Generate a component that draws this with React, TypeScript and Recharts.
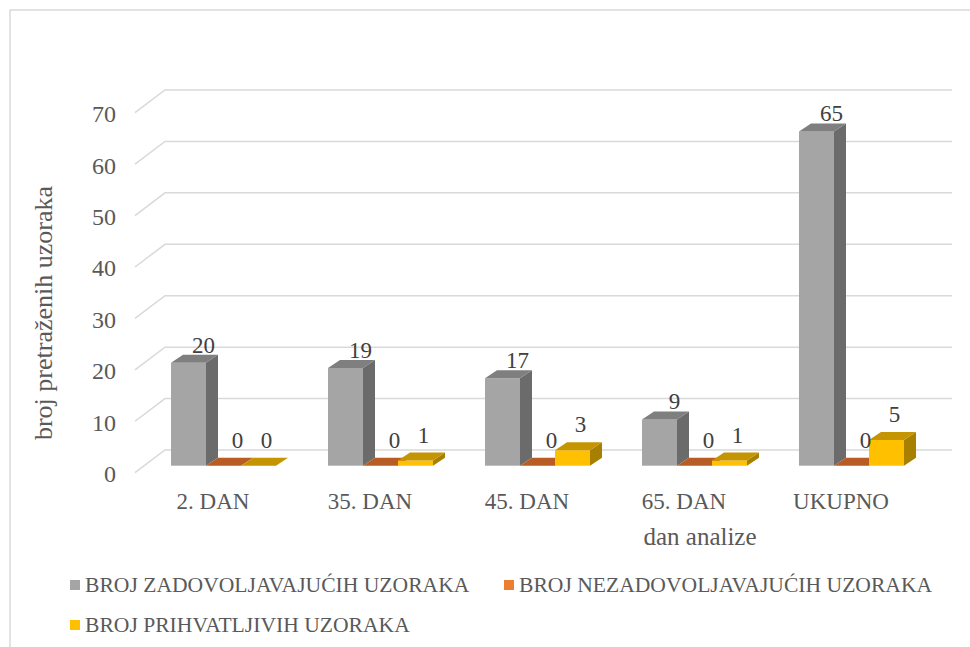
import React from 'react';
import {
  Bar,
  BarChart,
  CartesianGrid,
  LabelList,
  Legend,
  XAxis,
  YAxis,
} from 'recharts';

const categories = ['2. DAN', '35. DAN', '45. DAN', '65. DAN', 'UKUPNO'];
const zadovoljavajuci = [20, 19, 17, 9, 65];
const nezadovoljavajuci = [0, 0, 0, 0, 0];
const prihvatljivi = [0, 1, 3, 1, 5];
const yTicks = [0, 10, 20, 30, 40, 50, 60, 70];

const seriesNames = [
  'BROJ ZADOVOLJAVAJUĆIH UZORAKA',
  'BROJ NEZADOVOLJAVAJUĆIH UZORAKA',
  'BROJ PRIHVATLJIVIH UZORAKA',
];

const FONT = 'Liberation Serif';
const TEXT = '#595959';

// 3D faces: front, side, top
const palette = [
  { front: '#a5a5a5', side: '#6b6b6b', top: '#7f7f7f' },
  { front: '#ed7d31', side: '#a3541f', top: '#b85c24' },
  { front: '#ffc000', side: '#a88000', top: '#c49500' },
];

const DEPTH_X = 12;
const DEPTH_Y = 8;

const data = categories.map((name, i) => ({
  name,
  zad: zadovoljavajuci[i],
  nez: nezadovoljavajuci[i],
  pri: prihvatljivi[i],
}));

const makeShape = (c: { front: string; side: string; top: string }) => (props: any) => {
  const { x, y, width, height } = props;
  if (x == null || y == null) return null;
  const h = Math.max(0, height || 0);
  const side = `${x + width},${y} ${x + width + DEPTH_X},${y - DEPTH_Y} ${x + width + DEPTH_X},${y + h - DEPTH_Y} ${x + width},${y + h}`;
  const top = `${x},${y} ${x + DEPTH_X},${y - DEPTH_Y} ${x + width + DEPTH_X},${y - DEPTH_Y} ${x + width},${y}`;
  return (
    <g>
      {h > 0 && <rect x={x} y={y} width={width} height={h} fill={c.front} />}
      {h > 0 && <polygon points={side} fill={c.side} />}
      <polygon points={top} fill={c.top} />
    </g>
  );
};

const makeLabel = (dx: number, dy: number) => (props: any) => {
  const { x, y, width, value } = props;
  return (
    <text
      x={x + width / 2 + dx}
      y={y + dy}
      textAnchor="middle"
      fontFamily={FONT}
      fontSize={23}
      fill="#404040"
    >
      {value}
    </text>
  );
};

const gridLine = (props: any) => {
  const { x1, y1, x2 } = props;
  const back = y1 - 15.7;
  return (
    <polyline
      key={`g-${y1}`}
      points={`${x1 - 10},${y1 + 7} ${x1 + 20},${back} ${x2 + 22},${back}`}
      fill="none"
      stroke="#d9d9d9"
      strokeWidth={1.5}
    />
  );
};

const YTick = (props: any) => {
  const { y, payload } = props;
  return (
    <text x={116} y={y + 16.5} textAnchor="end" fontFamily={FONT} fontSize={24} fill={TEXT}>
      {payload.value}
    </text>
  );
};

const XTick = (props: any) => {
  const { x, y, payload } = props;
  return (
    <text x={x - 10.5} y={y + 43} textAnchor="middle" fontFamily={FONT} fontSize={23} fill={TEXT}>
      {payload.value}
    </text>
  );
};

const LegendContent = () => {
  const items = [
    { name: seriesNames[0], color: palette[0].front, x: 70, y: 0 },
    { name: seriesNames[1], color: palette[1].front, x: 504, y: 0 },
    { name: seriesNames[2], color: palette[2].front, x: 70, y: 40 },
  ];
  return (
    <svg width={970} height={80}>
      {items.map((it) => (
        <g key={it.name}>
          <rect x={it.x} y={it.y + 10} width={10} height={10} fill={it.color} />
          <text x={it.x + 15} y={it.y + 22} fontFamily={FONT} fontSize={21.6} fill={TEXT}>
            {it.name}
          </text>
        </g>
      ))}
    </svg>
  );
};

export default function App() {
  return (
    <div style={{ position: 'absolute', left: 0, top: 0, width: 970, height: 647, background: '#fff', overflow: 'hidden' }}>
      <svg style={{ position: 'absolute', left: 0, top: 0 }} width={970} height={647}>
        <rect x={10} y={10} width={1000} height={700} fill="none" stroke="#d9d9d9" strokeWidth={1.5} />
      </svg>
      <BarChart
        width={970}
        height={647}
        data={data}
        margin={{ top: 105.7, right: 40, bottom: 141.3, left: 0 }}
        barGap={0}
        barSize={35}
        style={{ position: 'absolute', left: 0, top: 0 }}
      >
        <CartesianGrid vertical={false} horizontal={gridLine} />
        <XAxis
          dataKey="name"
          axisLine={false}
          tickLine={false}
          tickSize={0}
          tickMargin={0}
          height={40}
          tick={<XTick />}
          interval={0}
        />
        <YAxis
          domain={[0, 70]}
          ticks={yTicks}
          axisLine={false}
          tickLine={false}
          width={145}
          tick={<YTick />}
        />
        <Legend
          layout="horizontal"
          verticalAlign="middle"
          align="center"
          content={<LegendContent />}
          wrapperStyle={{ top: 570, left: 0, width: 970, height: 80 }}
        />
        <Bar dataKey="zad" name={seriesNames[0]} fill={palette[0].front} shape={makeShape(palette[0])} isAnimationActive={false}>
          <LabelList dataKey="zad" content={makeLabel(15, -10)} />
        </Bar>
        <Bar dataKey="nez" name={seriesNames[1]} fill={palette[1].front} shape={makeShape(palette[1])} isAnimationActive={false}>
          <LabelList dataKey="nez" content={makeLabel(14, -18)} />
        </Bar>
        <Bar dataKey="pri" name={seriesNames[2]} fill={palette[2].front} shape={makeShape(palette[2])} isAnimationActive={false}>
          <LabelList dataKey="pri" content={makeLabel(8, -18)} />
        </Bar>
      </BarChart>
      <svg style={{ position: 'absolute', left: 0, top: 0, pointerEvents: 'none' }} width={970} height={647}>
        <text
          transform="translate(52, 313) rotate(-90)"
          textAnchor="middle"
          fontFamily={FONT}
          fontSize={26}
          fill={TEXT}
        >
          broj pretraženih uzoraka
        </text>
        <text x={700} y={545} textAnchor="middle" fontFamily={FONT} fontSize={25} fill={TEXT}>
          dan analize
        </text>
      </svg>
    </div>
  );
}
